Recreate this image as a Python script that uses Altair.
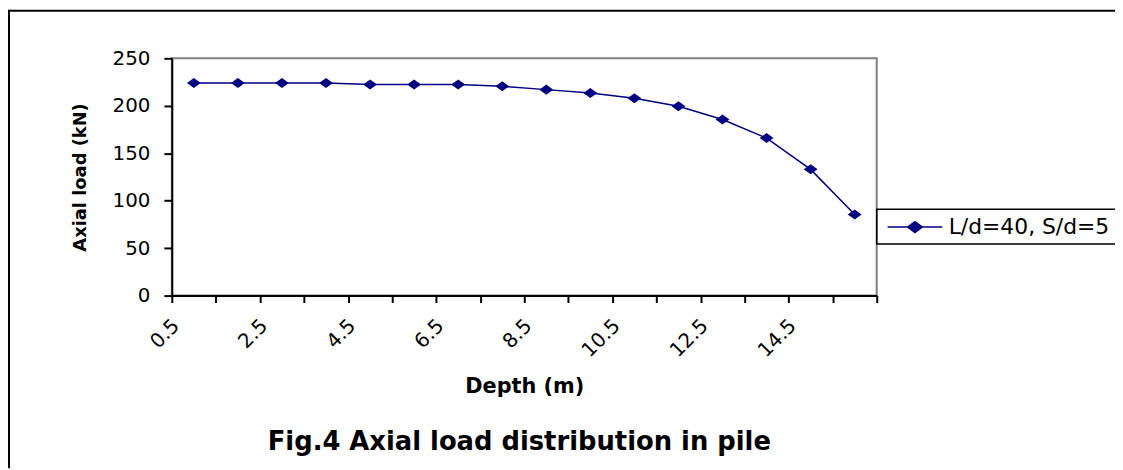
import altair as alt
import pandas as pd

# ---- data ----
depth = [0.5, 1.5, 2.5, 3.5, 4.5, 5.5, 6.5, 7.5, 8.5, 9.5, 10.5, 11.5, 12.5, 13.5, 14.5, 15.5]
axial_load = [224, 224, 224, 224, 222.5, 222.5, 222.5, 220.5, 217, 213.5, 208, 199.5, 185.5, 166, 133, 85.5]
series_name = "L/d=40, S/d=5"
y_ticks = [0, 50, 100, 150, 200, 250]
x_boundaries = list(range(17))  # category boundaries (Excel tick marks)
caption = "Fig.4 Axial load distribution in pile"

df = pd.DataFrame({"depth": depth, "load": axial_load, "series": [series_name] * len(depth)})
one_row = pd.DataFrame({"k": [0]})

NAVY = "#000080"
FONT = "DejaVu Sans"
W, H = 710, 239
PAD = {"left": 165, "top": 49, "right": 240, "bottom": 174}

diamond = "M-1,0L0,-0.72L1,0L0,0.72Z"
legend_symbol = "M-2.5,0L2.5,0M-0.68,0L0,-0.5L0.68,0L0,0.5Z"

legend = alt.Legend(
    title=None, orient="none", legendX=710, legendY=152, padding=6,
    symbolType=legend_symbol, symbolSize=484, symbolOffset=20.5, labelOffset=22,
    symbolStrokeWidth=1.5, symbolFillColor=NAVY, symbolStrokeColor=NAVY,
    labelFont=FONT, labelFontSize=22, labelColor="black", labelLimit=400,
    strokeColor="black",
)

x_enc = alt.X(
    "depth:Q",
    scale=alt.Scale(domain=[0, 16], nice=False, zero=False),
    axis=alt.Axis(
        values=x_boundaries,
        labelExpr="datum.value % 2 == 0 && datum.value < 16 ? format(datum.value + 0.5, '.1f') : ''",
        labelAngle=315, labelAlign="right", labelBaseline="middle",
        labelPadding=20, labelOffset=4, labelOverlap=False, tickSize=7,
        title="Depth (m)", titleX=355, titleY=98, titleAlign="center",
        titleBaseline="alphabetic", titleFontSize=21,
    ),
)
y_enc = alt.Y(
    "load:Q",
    scale=alt.Scale(domain=[0, 250], nice=False),
    axis=alt.Axis(
        values=y_ticks, tickSize=8, labelPadding=14,
        title="Axial load (kN)", titleX=-92, titleY=119.5, titleAngle=270,
        titleAlign="center", titleBaseline="middle", titleFontSize=18,
    ),
)
color_enc = alt.Color("series:N", scale=alt.Scale(range=[NAVY]), legend=legend)

line = alt.Chart(df).mark_line(strokeWidth=1.5).encode(x=x_enc, y=y_enc, color=color_enc)
points = alt.Chart(df).mark_point(filled=True, opacity=1, shape=diamond, size=196).encode(
    x=x_enc, y=y_enc, color=color_enc
)

# outer chart-area frame (left and top edges visible in the reference)
frame_left = alt.Chart(one_row).mark_rule(color="black", strokeWidth=2).encode(
    x=alt.value(-164), y=alt.value(-49), y2=alt.value(H + PAD["bottom"])
)
frame_top = alt.Chart(one_row).mark_rule(color="black", strokeWidth=2).encode(
    x=alt.value(-164), x2=alt.value(W + PAD["right"]), y=alt.value(-48)
)

# figure caption below the chart
caption_text = alt.Chart(one_row).mark_text(
    font=FONT, fontSize=26, fontWeight="bold", color="black",
    align="center", baseline="alphabetic",
).encode(x=alt.value(350), y=alt.value(395), text=alt.value(caption))

chart = (
    alt.layer(frame_left, frame_top, line, points, caption_text)
    .properties(
        width=W, height=H, padding=PAD,
        autosize=alt.AutoSizeParams(type="none"),
    )
    .configure_view(stroke="#808080", strokeWidth=2)
    .configure_axis(
        grid=False, domainColor="black", domainWidth=2, tickColor="black", tickWidth=2,
        labelFont=FONT, labelFontSize=20, labelColor="black",
        titleFont=FONT, titleFontSize=20, titleFontWeight="bold", titleColor="black",
    )
    .configure_legend(strokeWidth=1.5)
)

chart.save("out.html", embed_options={"renderer": "svg", "actions": False})
